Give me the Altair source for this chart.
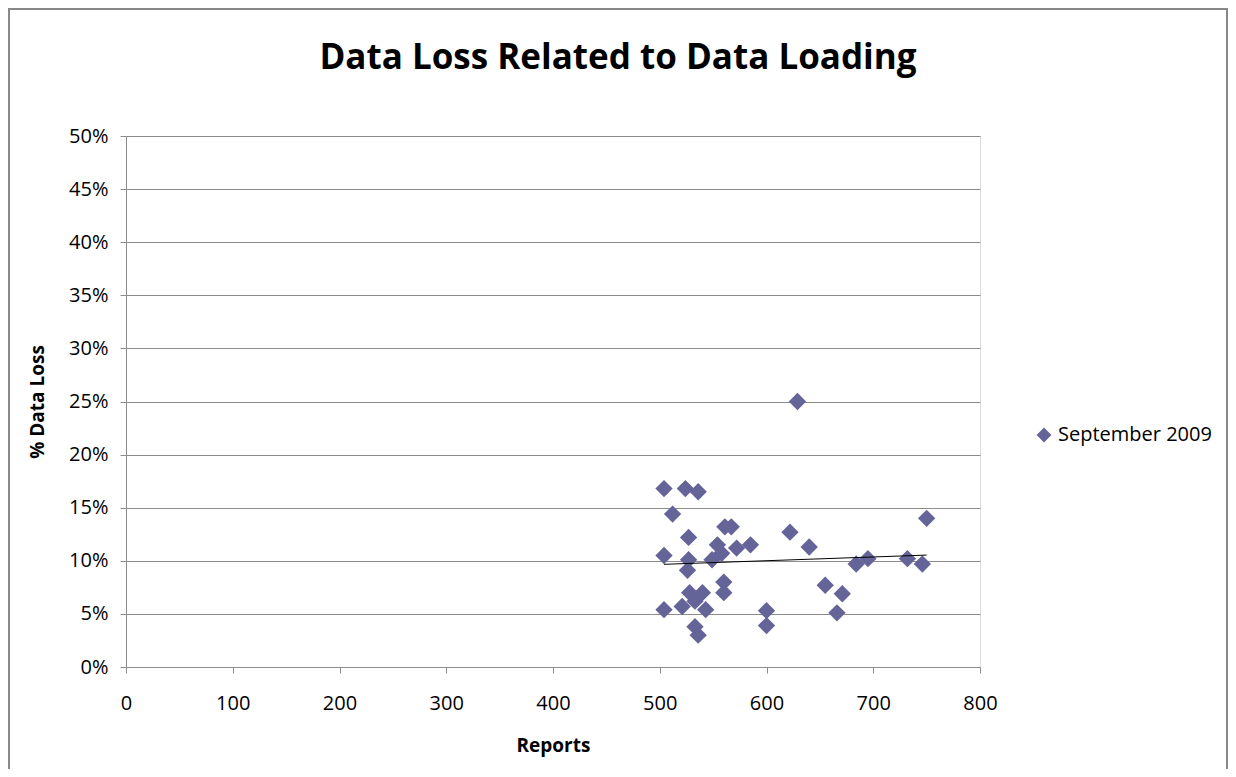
import altair as alt
import pandas as pd

reports = [504, 524, 536, 512, 527, 561, 567, 622, 640, 750,
           504, 554, 558, 549, 572, 585, 527, 526, 560, 560,
           528, 540, 533, 504, 521, 543, 533, 536, 600, 600,
           655, 671, 666, 684, 695, 732, 746, 629]
loss = [0.168, 0.168, 0.165, 0.144, 0.122, 0.132, 0.132, 0.127, 0.113, 0.140,
        0.105, 0.115, 0.107, 0.101, 0.112, 0.115, 0.101, 0.091, 0.080, 0.070,
        0.070, 0.070, 0.062, 0.054, 0.057, 0.054, 0.038, 0.030, 0.053, 0.039,
        0.077, 0.069, 0.051, 0.097, 0.102, 0.102, 0.097, 0.250]
series = ["September 2009"] * len(reports)
x_ticks = [0, 100, 200, 300, 400, 500, 600, 700, 800]
y_ticks = [0, 0.05, 0.10, 0.15, 0.20, 0.25, 0.30, 0.35, 0.40, 0.45, 0.50]

df = pd.DataFrame({"Reports": reports, "Loss": loss, "Series": series})

FONT = "Open Sans"
GRAY = "#8c8c8c"

x_enc = alt.X("Reports:Q",
              scale=alt.Scale(domain=[0, 800], nice=False, zero=True),
              axis=alt.Axis(values=x_ticks, title="Reports", grid=False,
                            domainColor=GRAY, tickColor=GRAY, tickSize=6,
                            labelFlush=False,
                            labelFontSize=20, labelColor="#000", labelPadding=20,
                            titleFontSize=19, titleFontWeight="bold", titleColor="#000",
                            titlePadding=23, labelFont=FONT, titleFont=FONT))
y_enc = alt.Y("Loss:Q",
              scale=alt.Scale(domain=[0, 0.5], nice=False),
              axis=alt.Axis(values=y_ticks, format=".0%", title="% Data Loss",
                            grid=True, gridColor=GRAY, domainColor=GRAY,
                            tickColor=GRAY, tickSize=6, labelFontSize=20,
                            labelFlush=False,
                            labelColor="#000", labelPadding=12,
                            titleFontSize=19, titleFontWeight="bold",
                            titleColor="#000", titlePadding=21,
                            labelFont=FONT, titleFont=FONT))

points = alt.Chart(df).mark_point(shape="diamond", filled=True, opacity=1, size=300).encode(
    x=x_enc,
    y=y_enc,
    color=alt.Color("Series:N",
                    scale=alt.Scale(range=["#646499"]),
                    legend=alt.Legend(title=None, orient="none", legendX=908, legendY=289,
                                      labelFontSize=20, labelFont=FONT, labelColor="#000",
                                      symbolType="diamond", symbolSize=220,
                                      symbolStrokeWidth=0)),
)

trend = alt.Chart(df).transform_regression("Reports", "Loss").mark_line(
    color="#000", strokeWidth=1).encode(x="Reports:Q", y="Loss:Q")

frame = alt.Chart(df).mark_rect(fill=None, stroke="#888", strokeWidth=1.5).encode(
    x=alt.value(-117), x2=alt.value(1101), y=alt.value(-127), y2=alt.value(660))

chart = alt.layer(frame, points, trend).properties(
    width=854, height=531,
    title=alt.TitleParams("Data Loss Related to Data Loading", fontSize=35,
                          font=FONT, fontWeight="bold", color="#000",
                          anchor="middle", dx=65, offset=0, dy=68),
    autosize=alt.AutoSizeParams(type="none"),
    padding={"left": 118, "top": 128, "right": 248, "bottom": 102},
).configure_view(stroke=None).configure(background="white")

chart.save("out.html", embed_options={"renderer": "svg", "actions": False})
